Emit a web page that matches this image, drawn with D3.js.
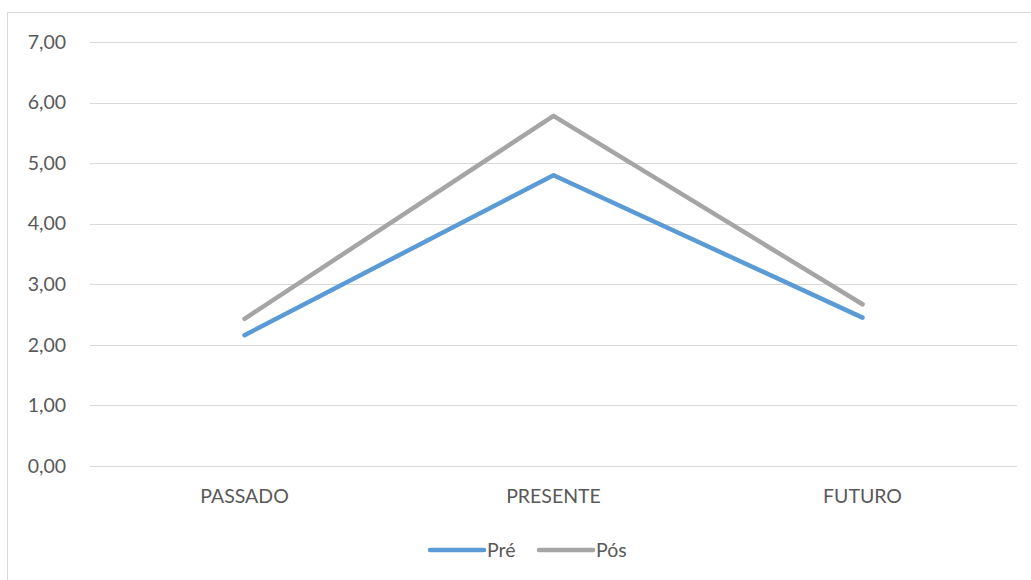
<!DOCTYPE html>
<html><head><meta charset="utf-8">
<script src="https://cdn.jsdelivr.net/npm/d3@7"></script>
<style>body{margin:0;background:#fff}svg{display:block}text{font-family:Lato,"Open Sans",sans-serif;fill:#595959}</style>
</head><body><svg id="c" width="1031" height="580"></svg>
<script>
const categories = ["PASSADO","PRESENTE","FUTURO"];
const pre = [2.16, 4.80, 2.45];
const pos = [2.43, 5.78, 2.67];
const seriesNames = ["Pré","Pós"];
const colors = ["#5B9BD5","#A5A5A5"];
const yTicks = [0,1,2,3,4,5,6,7];

const FS = 19.5;
const svg = d3.select("#c");
svg.append("rect").attr("x",7.5).attr("y",12.5).attr("width",1040).attr("height",600)
  .attr("fill","#fff").attr("stroke","#D9D9D9").attr("stroke-width",1);

const x = d3.scaleBand().domain(categories).range([90,1017]).padding(0);
const y = d3.scaleLinear().domain([0,7]).range([466,42]);

const grid = svg.append("g");
grid.selectAll("line").data(yTicks).join("line")
  .attr("x1",90).attr("x2",1017).attr("y1",d=>Math.round(y(d))+0.5).attr("y2",d=>Math.round(y(d))+0.5)
  .attr("stroke","#D9D9D9").attr("stroke-width",1);

const fmt = d => d3.format(".2f")(d).replace(".",",");
const yAxis = d3.axisLeft(y).tickValues(yTicks).tickFormat(fmt).tickSize(0).tickPadding(0);
const ga = svg.append("g").attr("transform","translate(66,0)").call(yAxis);
ga.select(".domain").remove();
ga.selectAll("text").attr("font-size",FS).style("font-family","Lato,'Open Sans',sans-serif").attr("fill","#595959");

const xAxis = d3.axisBottom(x).tickSize(0).tickPadding(0);
const gx = svg.append("g").attr("transform","translate(0,489)").call(xAxis);
gx.select(".domain").remove();
gx.selectAll("text").attr("font-size",FS).style("font-family","Lato,'Open Sans',sans-serif").attr("fill","#595959");

const line = d3.line().x((d,i)=>x(categories[i])+x.bandwidth()/2).y(d=>y(d));
[pre,pos].forEach((s,k)=>{
  svg.append("path").datum(s).attr("d",line).attr("fill","none")
    .attr("stroke",colors[k]).attr("stroke-width",4.5)
    .attr("stroke-linecap","round").attr("stroke-linejoin","round");
});

// legend
const legX = [430,539];
seriesNames.forEach((n,k)=>{
  const g = svg.append("g").attr("transform",`translate(${legX[k]},550)`);
  g.append("line").attr("x1",0).attr("x2",54).attr("y1",0).attr("y2",0)
    .attr("stroke",colors[k]).attr("stroke-width",4.5).attr("stroke-linecap","round");
  g.append("text").attr("x",57).attr("y",7).attr("font-size",FS).text(n);
});
</script></body></html>
